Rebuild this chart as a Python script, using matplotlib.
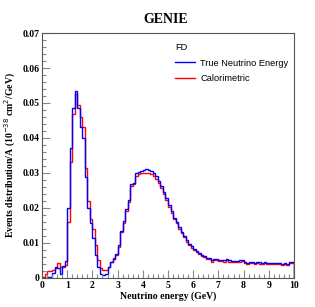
import numpy as np
import matplotlib
matplotlib.use("Agg")
import matplotlib.pyplot as plt
from matplotlib.ticker import MultipleLocator

# bin edges 0-10 GeV, 0.1 GeV wide
edges = np.linspace(0, 10, 101)

true_energy = [
    0.0001, 0.0001, 0.0002, 0.0004, 0.0013, 0.0030, 0.0029, 0.0012, 0.0035, 0.0048,
    0.0201, 0.0371, 0.0487, 0.0534, 0.0486, 0.0430, 0.0400, 0.0289, 0.0200, 0.0156,
    0.0115, 0.0067, 0.0031, 0.0010, 0.0008, 0.0012, 0.0030, 0.0045, 0.0055, 0.0068,
    0.0094, 0.0134, 0.0163, 0.0196, 0.0223, 0.0268, 0.0272, 0.0300, 0.0304, 0.0306,
    0.0309, 0.0311, 0.0309, 0.0305, 0.0300, 0.0290, 0.0277, 0.0262, 0.0246, 0.0228,
    0.0208, 0.0190, 0.0172, 0.0160, 0.0145, 0.0132, 0.0120, 0.0108, 0.0098, 0.0090,
    0.0083, 0.0078, 0.0071, 0.0066, 0.0062, 0.0058, 0.0056, 0.0052, 0.0055, 0.0053,
    0.0052, 0.0051, 0.0050, 0.0053, 0.0050, 0.0049, 0.0049, 0.0048, 0.0050, 0.0052,
    0.0045, 0.0044, 0.0046, 0.0046, 0.0044, 0.0046, 0.0045, 0.0043, 0.0045, 0.0044,
    0.0044, 0.0043, 0.0042, 0.0043, 0.0042, 0.0040, 0.0042, 0.0041, 0.0047, 0.0045,
]

calorimetric = [
    0.0003, 0.0010, 0.0020, 0.0021, 0.0022, 0.0028, 0.0044, 0.0032, 0.0030, 0.0038,
    0.0160, 0.0331, 0.0468, 0.0525, 0.0493, 0.0460, 0.0432, 0.0315, 0.0220, 0.0169,
    0.0140, 0.0095, 0.0050, 0.0029, 0.0022, 0.0024, 0.0030, 0.0045, 0.0058, 0.0066,
    0.0088, 0.0130, 0.0158, 0.0190, 0.0218, 0.0262, 0.0268, 0.0292, 0.0296, 0.0300,
    0.0301, 0.0301, 0.0299, 0.0296, 0.0292, 0.0283, 0.0270, 0.0256, 0.0240, 0.0222,
    0.0203, 0.0185, 0.0168, 0.0157, 0.0141, 0.0129, 0.0117, 0.0104, 0.0095, 0.0087,
    0.0080, 0.0075, 0.0068, 0.0063, 0.0060, 0.0055, 0.0053, 0.0047, 0.0052, 0.0050,
    0.0049, 0.0049, 0.0047, 0.0050, 0.0047, 0.0046, 0.0047, 0.0045, 0.0047, 0.0049,
    0.0042, 0.0041, 0.0044, 0.0043, 0.0041, 0.0043, 0.0041, 0.0040, 0.0042, 0.0041,
    0.0041, 0.0040, 0.0039, 0.0040, 0.0039, 0.0037, 0.0039, 0.0038, 0.0043, 0.0042,
]

serif = ["Liberation Serif", "DejaVu Serif"]
sans = ["Liberation Sans", "DejaVu Sans"]

fig = plt.figure(figsize=(3.15, 3.07), dpi=100)
ax = fig.add_axes([0.1333, 0.0945, 0.8, 0.798])

ax.stairs(calorimetric, edges, color="#ff0000", lw=1.0, label="Calorimetric")
ax.stairs(true_energy, edges, color="#0000ff", lw=1.0, label="True Neutrino Energy")

ax.set_xlim(0, 10)
ax.set_ylim(0, 0.07)

ax.xaxis.set_major_locator(MultipleLocator(1))
ax.xaxis.set_minor_locator(MultipleLocator(0.2))
ax.yaxis.set_major_locator(MultipleLocator(0.01))
ax.yaxis.set_minor_locator(MultipleLocator(0.002))
ax.yaxis.set_major_formatter(plt.FuncFormatter(lambda v, p: "0" if v == 0 else f"{v:.2f}"))

ax.tick_params(which="both", direction="in", top=False, right=False, color="#888888", width=0.8)
ax.tick_params(which="major", length=6, pad=2)
ax.tick_params(which="minor", length=3)
for lab in ax.get_xticklabels() + ax.get_yticklabels():
    lab.set_family(serif)
    lab.set_fontweight("bold")
    lab.set_fontsize(7)

for sp in ax.spines.values():
    sp.set_color("#555555")
    sp.set_linewidth(0.8)

ax.set_xlabel("Neutrino energy (GeV)", family=serif, fontweight="bold", fontsize=7, labelpad=1)
ax.set_ylabel(r"Events distribution/A (10$^{-38}$ cm$^{2}$/GeV)", family=serif, fontweight="bold",
              fontsize=7, labelpad=3)

fig.text(0.525, 0.938, "GENIE", family=serif, fontweight="bold", fontsize=10, ha="center", va="center")

# legend drawn like the ROOT one: header, then two entries
handles, labels = ax.get_legend_handles_labels()
leg = ax.legend(handles[::-1], labels[::-1], title="FD", loc="upper left", bbox_to_anchor=(0.513, 0.975),
                frameon=False, prop={"family": sans, "size": 6.7}, handlelength=2.15, labelspacing=0.72,
                handletextpad=0.55, borderaxespad=0)
leg.get_title().set_family(sans)
leg.get_title().set_fontsize(6.7)
leg._legend_box.align = "left"

fig.savefig("out.png", dpi=100)
